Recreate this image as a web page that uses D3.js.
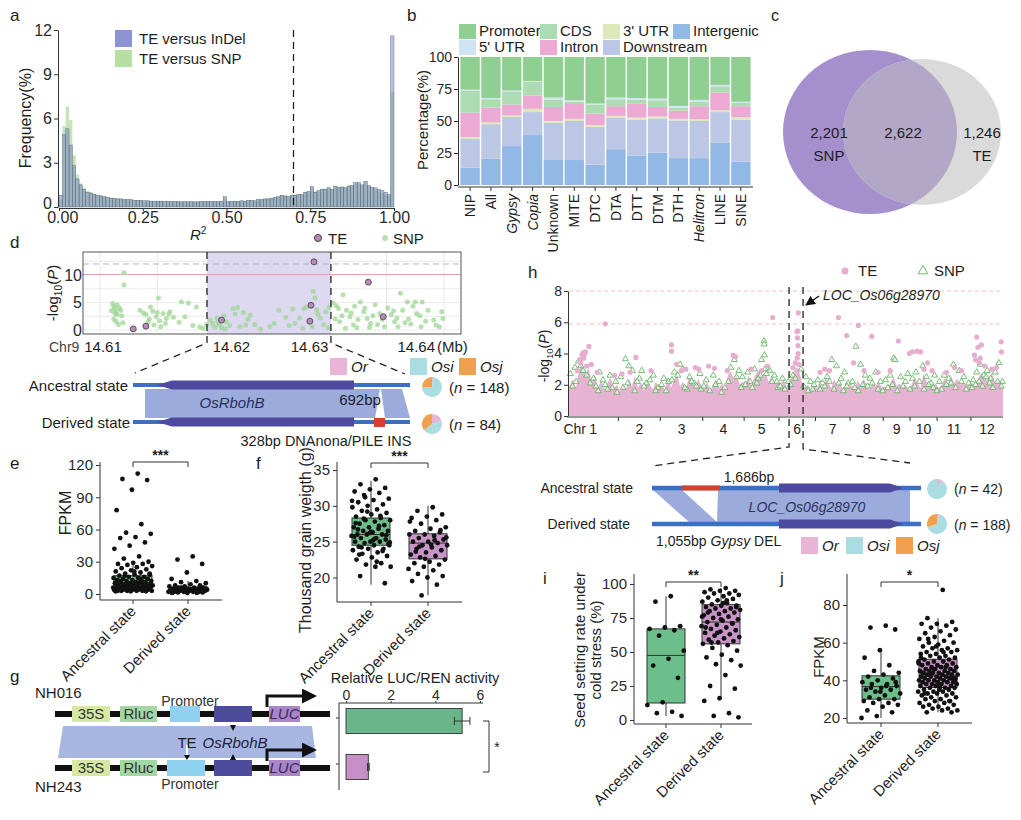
<!DOCTYPE html>
<html>
<head>
<meta charset="utf-8">
<script src="https://cdn.jsdelivr.net/npm/d3@7"></script>
<style>
  body { margin: 0; background: #fff; }
  svg { font-family: 'Liberation Sans', Arial, Helvetica, sans-serif; }
</style>
</head>
<body>
<svg id="fig" width="1021" height="820"></svg>
<script>
// ---------------- data ----------------

// a: LD histogram, 100 bins of 0.01
var histIndel = [0.8,4.9,5.3,4.2,2.8,1.9,1.5,1.2,1.0,0.95,
  0.85,0.8,0.75,0.7,0.65,0.6,0.6,0.55,0.55,0.5,
  0.5,0.5,0.45,0.45,0.45,0.42,0.42,0.4,0.4,0.4,
  0.4,0.38,0.4,0.36,0.38,0.36,0.35,0.36,0.35,0.36,
  0.35,0.35,0.38,0.36,0.38,0.36,0.38,0.36,0.38,0.7,
  0.36,0.38,0.4,0.38,0.42,0.4,0.45,0.45,0.42,0.5,
  0.5,0.55,0.55,0.6,0.65,0.7,0.8,0.75,0.7,0.8,
  0.8,0.85,0.85,1.0,1.05,1.4,1.0,1.1,1.2,1.2,
  1.3,1.2,1.4,1.3,1.35,1.3,1.4,1.45,1.65,1.65,
  1.5,1.75,1.45,1.35,1.3,1.2,1.1,1.0,0.85,11.6];
var histSnp = [0.5,5.5,6.8,5.9,3.5,2.2,1.6,1.3,1.1,1.0,
  0.9,0.85,0.8,0.72,0.68,0.62,0.6,0.58,0.55,0.52,
  0.5,0.5,0.46,0.45,0.45,0.43,0.42,0.41,0.4,0.4,
  0.4,0.38,0.4,0.37,0.38,0.36,0.36,0.36,0.35,0.36,
  0.35,0.36,0.38,0.36,0.38,0.37,0.38,0.36,0.38,0.65,
  0.37,0.38,0.4,0.39,0.42,0.41,0.45,0.46,0.43,0.5,
  0.52,0.55,0.56,0.6,0.66,0.7,0.78,0.75,0.72,0.82,
  0.85,0.9,0.85,1.0,1.05,1.3,1.05,1.1,1.25,1.25,
  1.35,1.2,1.45,1.35,1.4,1.35,1.5,1.45,1.6,1.6,
  1.45,1.7,1.4,1.3,1.2,1.05,0.95,0.85,0.75,7.8];
var r2Ticks = [0, 0.25, 0.5, 0.75, 1];
var r2Cutoff = 0.7;

// b: genomic feature share (%) per TE class
var bCats = ["NIP","All","Gypsy","Copia","Unknown","MITE","DTC","DTA","DTT","DTM","DTH","Helitron","LINE","SINE"];
var bItalic = ["Gypsy","Copia","Helitron"];
var bIntergenic = [13.5,20.5,30.4,39,19.5,19.5,15.8,28,23,25.2,21,21,33.2,18.2];
var bDownstream = [22.5,27,22.8,18,29.1,30.5,29.7,24.7,28,26.8,29.4,29,23.8,32.8];
var bUTR3 = [1.5,1.5,1.1,2.5,1.4,1.7,1.3,1.3,1.7,1.5,1.3,1.4,1.4,2];
var bIntron = [19,11.5,8.6,10.5,11,12.3,9,7.6,10.7,7.5,6.5,10.2,13.8,8.6];
var bCDS = [17,6.5,9.8,10.5,5.8,1,7.1,5.4,3.4,5.2,2.3,3.6,4.9,2.6];
var bUTR5 = [1,1,1.1,0.8,1.5,1.2,0.7,1.3,1.2,1.3,1.3,1.3,1.1,0.8];
var bPromoter = [25.5,32,26.2,18.7,31.7,33.8,36.4,31.7,32,32.5,38.2,33.5,21.8,35];
var bTicks = [0,25,50,75,100];

// c: venn counts
var vennCounts = [2201, 2622, 1246];
var vennNames = ["SNP", "TE"];

// d: local association around OsRbohB (x in kb from 14.61 Mb)
var dSnp = [[1.1,4.8],[1.2,4.3],[1.3,3.9],[1.4,3.3],[1.5,2.8],[1.2,2.0],[1.8,3.6],[1.6,1.0],[1.3,3.0],[1.9,2.6],
  [1.7,4.0],[1.0,3.5],[2.1,10.4],[2.1,8.2],[1.5,4.6],[3.5,3.6],[4.0,2.8],[4.4,4.2],[5.1,5.8],[4.9,2.4],
  [5.5,3.0],[5.8,2.1],[6.1,3.3],[4.2,1.5],[4.7,0.9],[5.3,0.6],[5.7,1.2],[6.4,2.3],[3.8,3.1],[4.6,3.4],
  [5.0,3.2],[6.0,2.9],[7.1,5.1],[7.7,4.9],[7.4,2.4],[8.7,0.6],[9.0,0.3],[8.1,0.8],[9.3,1.0],[6.9,1.4],
  [8.4,4.2],[9.6,1.8],[9.8,1.2],[10.0,0.5],[10.2,2.2],[10.4,1.0],[10.6,0.4],[10.8,2.6],[11.0,1.5],[11.3,0.8],
  [11.6,3.9],[12.0,4.1],[12.5,3.2],[12.9,1.9],[13.5,1.0],[14.8,0.6],[15.2,1.2],[15.6,3.6],[16.2,2.3],[16.8,3.8],
  [17.0,1.2],[17.4,2.2],[17.8,3.9],[18.0,4.2],[18.3,1.6],[18.6,7.0],[18.75,5.8],[18.9,3.7],[19.2,2.2],[19.5,1.0],
  [19.9,0.4],[20.0,4.2],[18.5,0.6],[17.7,0.3],[14.0,0.2],[12.2,0.6],[20.3,4.9],[20.6,4.4],[21.2,6.4],[21.5,3.6],
  [21.8,2.4],[22.1,0.9],[22.4,0.4],[22.7,5.1],[23.0,3.3],[23.3,2.1],[23.6,1.2],[24.0,4.6],[24.4,3.0],[24.8,0.6],
  [25.1,4.0],[25.4,2.8],[25.7,1.5],[26.0,0.6],[26.2,6.7],[26.4,3.6],[26.8,5.1],[27.5,5.1],[27.6,3.0],[28.0,0.6],
  [28.1,5.1],[29.1,1.8],[29.8,3.3],[29.9,2.1],[29.6,0.6],[20.9,1.5],[21.9,3.1],[23.8,2.6],[24.6,1.9],[25.9,2.2],
  [27.1,1.1],[27.9,2.6],[28.6,3.6],[22.5,1.9],[26.6,1.3],[21.4,0.3],[23.5,0.5],[20.5,2.0],[10.9,0.2],[12.7,0.9],
  [1.4,1.6],[2.0,1.3],[4.3,2.0],[5.2,1.7],[10.3,1.4],[11.8,2.9],[13.1,2.7],[16.5,0.8],[19.0,2.9],[20.8,3.9],
  [22.2,4.3],[24.2,1.0],[25.6,3.5],[27.3,4.3],[28.4,1.6],[29.3,0.9],[21.1,2.6],[23.1,4.0],[26.9,2.0],[19.7,3.3]];
var dTe = [[2.9,0.2],[4.0,0.7],[10.6,1.8],[18.3,1.6],[18.4,4.5],[18.66,12.4],[23.4,8.7],[24.7,2.4]];
var dRegion = [9.33, 20.14];
var dXTicks = ["14.61","14.62","14.63","14.64"];
var dYTicks = [0,5,10];
var dPieAnc = [2,73,25];   // Or, Osi, Osj
var dPieDer = [20,45,35];
var groupNames = ["Or","Osi","Osj"];

// e,f,i,j: box stats [min,q1,median,q3,max] and the dots
var states = ["Ancestral state","Derived state"];
var eAncBox = [3,5,9,17,30], eDerBox = [1,2,4.5,6,12];
var eAnc = [112,107,106,97,78,65,57,56,53,52,48,45,42,35,33,30,29,28,28,27,26,25,24,23,22,21,20,19,18,18,
  17,16,16,15,15,14,14,13,13,12,12,12,11,11,11,10,10,10,9,9,9,8,8,8,8,7,7,7,7,6,6,6,6,5,5,5,5,4,4,4,4,4,
  3,3,3,3,3,3,2.5,2.5,2.5,14,17,19,21,12,10,9,6,5];
var eDer = [35,32,28,20,14,12,11,10,9,8,8,7,7,6,6,6,5,5,5,5,4,4,4,4,4,3,3,3,3,3,2,2,2,2,2,1.5,1.5,1,1,1,6,5,4,3,7,2,3,5];
var fAncBox = [19,24.5,26,28.3,33.5], fDerBox = [17.5,22.6,24.8,26.1,30];
var fAnc = [33.7,33,32.5,32.3,32,31.8,31.5,31,30.8,30.5,30.2,30,29.8,29.5,29.3,29,28.8,28.5,28.3,28,28,27.8,27.5,
  27.3,27,27,26.8,26.5,26.5,26.3,26,26,26,25.8,25.5,25.5,25.3,25,25,25,24.8,24.5,24.5,24.3,24,24,23.8,23.5,23.3,
  23,22.8,22.5,22,21.8,21.5,21.5,20.2,19.2,26.2,25.7,27.2,28.2,24.7,25.2,26.7,23.7,29.2,30.7,22.2,24.2,25.9,26.4,
  27.6,28.6,31.2,24.9,25.4,23.2];
var fDer = [29.8,29.3,28.8,28.5,28.3,28,27.5,27,26.8,26.5,26.3,26,26,25.8,25.5,25.3,25,25,24.8,24.5,24.5,24.2,24,
  23.8,23.5,23.2,23,22.8,22.5,22.2,22,21.8,21.5,21.2,21,20.5,20.2,20,19.5,19,17.5,25.6,24.6,23.6,26.6,22.6,27.8,25.2,24.3];
var iAncBox = [3,12.5,47.5,67,91], iDerBox = [16,56,72,84.8,97];
var iAnc = [91,87,69,68,67,66,62,51,45,40,31,13,11,6,5,3];
var iDer = [97,96,95,95,94,93,93,92,91,90,89,88,87,86,85,84,84,83,82,82,81,80,80,79,78,77,76,75,74,73,72,71,70,
  69,68,67,66,65,64,63,62,61,60,59,58,57,56,55,53,51,48,46,44,41,40,33,25,23,16,14,5,3,2,86,79,71,64,76,88,57,83,74,68];
var jAncBox = [20,30,36.7,42.4,56.5], jDerBox = [23,36.2,42.4,51.2,73];
var jAnc = [69,68,67,56,52,48,45,44,43,42,41,40,39,38,38,37,36,35,35,34,33,32,31,30,30,29,28,28,27,26,24,23,21,20,37,36,39,34];
var jDer = [88,73,71,70,70,69,68,67,66,65,64,63,62,61,60,60,59,58,57,57,56,56,55,55,54,54,53,53,52,52,51,51,50,50,50,
  49,49,48,48,48,47,47,47,46,46,46,45,45,45,45,44,44,44,44,43,43,43,43,42,42,42,42,41,41,41,41,40,40,40,40,39,39,39,39,
  38,38,38,38,37,37,37,36,36,36,35,35,35,34,34,34,33,33,33,32,32,31,31,30,30,29,29,28,28,27,27,26,26,25,25,24,24,23,23,
  58,52,47,43,39,36,33,29,46,49,55,62,41,38,44];

// g: dual luciferase
var lucLines = ["NH016","NH243"];
var lucMean = [5.2, 1.0];
var lucErr = [0.35, 0.04];
var lucTicks = [0,2,4,6];

// h: genome wide scan
var chrLen = [43.27,35.94,36.41,35.50,29.96,31.25,29.70,28.44,23.01,23.21,29.02,27.53];
var mhBand = [
  [1.9,2.4,1.8,2.9,3.4,2.6,3.1,2.2,2.6,1.8,2.3,1.7,2.1,2.5,1.8,2.0],
  [1.6,2.1,1.7,2.4,1.9,2.6,1.8,2.2,1.6,2.3,2.0,1.7,2.2,1.8],
  [2.0,1.7,2.5,1.8,2.3,2.7,1.9,2.2,1.7,2.6,2.1,1.8,2.4,1.9],
  [1.8,2.2,1.6,2.0,2.4,1.8,2.1,1.7,2.6,2.9,2.3,2.7,2.0,2.2],
  [2.1,2.6,1.9,2.5,2.8,3.0,2.4,2.7,2.2,2.6,2.0,2.3],
  [2.0,2.4,1.8,2.3,2.7,3.1,3.0,2.2,1.8,2.0,1.7,1.9],
  [1.8,2.2,1.7,2.5,2.1,1.8,2.4,1.9,2.2,1.7,2.0,1.8],
  [2.0,1.7,2.3,1.9,2.4,2.0,1.7,2.2,1.9,2.3,1.8],
  [1.9,1.7,2.2,2.5,1.9,2.1,1.8,2.0,1.7],
  [2.0,2.5,2.1,1.8,2.7,2.2,2.0,1.8,2.1],
  [1.8,2.0,2.4,1.9,2.6,2.1,2.4,2.0,2.2,1.9,2.1],
  [2.1,1.9,2.5,2.8,2.4,2.2,2.8,2.1,2.3,2.0]];
var mhTe = [[1,12,3.9],[1,13,4.05],[1,14,3.95],[1,15,4.1],[1,18,4.45],[1,32,5.9],[1,10,3.6],[1,20,3.3],[1,40,2.6],
  [1,11,3.4],[1,13.5,3.7],[1,16,3.2],[1,8,2.9],[1,25,2.8],
  [2,15,3.75],[2,3,2.7],[2,28,2.9],[2,10,2.8],[3,9.5,4.55],[3,9.6,4.15],[3,14,3.3],[3,22,3.0],[3,30,3.1],[3,33,3.0],[3,18,2.9],
  [4,5,3.2],[4,10,3.05],[4,26,3.9],[4,28,3.8],[4,21,2.9],[5,24.5,6.3],[5,6,3.0],[5,15,2.9],[5,20,3.2],
  [6,16.5,6.6],[6,15.5,5.4],[6,16,5.45],[6,15.8,5.0],[6,16.2,4.5],[6,16.4,4.0],[6,15.6,3.7],[6,17,3.3],[6,14,3.4],[6,12,3.1],
  [7,19.7,6.3],[7,26.8,5.15],[7,8,3.0],[7,12,2.9],[7,4,2.8],[8,7.1,5.8],[8,18.6,5.1],[8,3,3.4],[8,12,2.9],[8,24,2.8],
  [9,13,4.8],[9,22.4,4.0],[9,6,2.9],[10,2,4.1],[10,6,4.15],[10,9,4.1],[10,15,3.4],[10,19,2.9],[10,12,3.0],
  [11,8,2.8],[11,15,3.1],[11,21,2.9],[12,5,5.05],[12,6,4.4],[12,9,4.55],[12,26,4.75],[12,26.2,4.1],[12,3,3.9],[12,7,3.4],
  [12,12,3.2],[12,18,3.0],[12,4,3.6],[12,8,3.7],[12,22,3.1]];
var mhSnp = [[1,2,2.7],[1,6,3.1],[1,9,3.5],[1,11,3.2],[1,16,2.6],[1,22,2.4],[1,27,2.8],[1,30,2.3],[1,36,2.6],[1,41,2.2],[1,24,1.9],[1,34,1.7],
  [2,2,2.5],[2,6,3.65],[2,9,3.2],[2,12,2.9],[2,18,2.4],[2,24,2.1],[2,30,2.6],[2,34,1.8],[2,20,2.9],
  [3,3,2.4],[3,7,2.2],[3,12,2.8],[3,17,3.3],[3,19,3.0],[3,25,2.5],[3,29,2.1],[3,34,2.7],[3,23,1.7],
  [4,3,2.3],[4,9,2.6],[4,14,2.2],[4,19,1.8],[4,24,3.1],[4,27,3.6],[4,31,2.9],[4,34,2.5],
  [5,3,2.8],[5,9,3.0],[5,12,2.4],[5,17,4.8],[5,17.2,4.6],[5,17.5,3.9],[5,15,3.6],[5,20,3.0],[5,22,2.9],[5,26,2.6],[5,28,2.2],
  [6,3,2.4],[6,8,2.2],[6,12,2.6],[6,19,3.0],[6,23,2.5],[6,27,2.2],[6,30,2.0],
  [7,2,2.3],[7,6,2.1],[7,10,2.5],[7,14,3.6],[7,18,3.2],[7,22,2.4],[7,25,2.8],[7,28,2.1],
  [8,2,2.2],[8,5,4.45],[8,9,3.3],[8,13,2.6],[8,17,2.4],[8,22,2.8],[8,26,2.2],
  [9,2,2.3],[9,6,2.6],[9,9,3.7],[9,10,3.6],[9,15,2.5],[9,19,2.2],[9,21,2.7],
  [10,2,2.4],[10,5,2.8],[10,11,3.2],[10,14,2.5],[10,18,2.1],[10,21,2.6],
  [11,2,2.2],[11,6,2.6],[11,10,2.4],[11,14,3.3],[11,19,2.9],[11,23,2.5],[11,27,2.1],
  [12,2,2.3],[12,5,2.8],[12,8,3.3],[12,11,2.6],[12,14,2.9],[12,17,2.4],[12,21,2.8],[12,24,3.4],[12,27,2.2],
  // denser cloud just over the TE mass
  [1,4,1.9],[1,7,2.2],[1,13,2.9],[1,19,2.1],[1,26,1.6],[1,32,2.0],[1,38,1.8],[1,42,1.5],
  [2,4,1.8],[2,8,2.1],[2,14,1.6],[2,16,2.2],[2,22,1.9],[2,27,2.3],[2,32,1.6],
  [3,1,2.0],[3,5,1.6],[3,10,2.3],[3,15,2.6],[3,21,1.8],[3,27,2.2],[3,31,1.9],[3,35,1.7],
  [4,1,1.9],[4,6,1.6],[4,11,2.0],[4,16,1.5],[4,22,2.2],[4,29,2.5],[4,33,1.8],
  [5,1,2.0],[5,5,2.2],[5,7,1.8],[5,11,2.1],[5,14,2.6],[5,18,3.0],[5,19,2.7],[5,24,2.2],[5,29,1.8],
  [6,1,1.9],[6,5,1.7],[6,10,2.0],[6,14,2.4],[6,21,1.9],[6,25,1.6],[6,29,1.7],
  [7,4,1.7],[7,8,1.9],[7,12,2.2],[7,16,1.7],[7,20,2.1],[7,24,1.6],[7,27,1.9],
  [8,4,1.8],[8,7,1.6],[8,11,2.0],[8,15,1.9],[8,19,2.1],[8,24,1.7],[8,28,1.6],
  [9,4,1.8],[9,8,2.0],[9,12,1.6],[9,17,1.9],[9,23,1.7],
  [10,4,1.9],[10,8,2.2],[10,12,1.7],[10,16,2.0],[10,20,1.8],[10,23,1.6],
  [11,4,1.7],[11,8,2.0],[11,12,2.1],[11,16,1.8],[11,21,2.2],[11,25,1.7],
  [12,1,1.8],[12,4,2.0],[12,7,2.2],[12,10,1.9],[12,13,2.5],[12,16,2.1],[12,19,1.8],[12,23,2.2],[12,26,1.9]];
var mhYTicks = [0,2,4,6,8];
var mhThresholds = [8, 5.9];
var mhRegion = [6, 8.6, 20.6];  // chr, start, end (Mb)
var hPieAnc = [8,92,0];
var hPieDer = [5,65,30];

// ---------------- helpers ----------------
var svg = d3.select("#fig");
var FONT = "'Liberation Sans', Arial, Helvetica, sans-serif";
var INK = "#1e1e1e";
var groupColors = ["#e9b5d6", "#a9dde1", "#f0a04e"];

function addText(g, x, y, s, o) {
  o = o || {};
  var t = g.append("text").attr("x", x).attr("y", y).text(s)
    .attr("font-size", o.size || 15).attr("text-anchor", o.anchor || "start")
    .attr("fill", o.fill || INK);
  if (o.italic) t.attr("font-style", "italic");
  if (o.bold) t.attr("font-weight", "bold");
  if (o.rotate != null) t.attr("transform", "rotate(" + o.rotate + "," + x + "," + y + ")");
  return t;
}

// text made of pieces (italic / sub / sup)
function rich(g, x, y, parts, o) {
  o = o || {};
  var sz = o.size || 15;
  var t = g.append("text").attr("x", x).attr("y", y).attr("font-size", sz)
    .attr("text-anchor", o.anchor || "start").attr("fill", o.fill || INK);
  if (o.rotate != null) t.attr("transform", "rotate(" + o.rotate + "," + x + "," + y + ")");
  parts.forEach(function (p) {
    var ts = t.append("tspan").text(p.t);
    if (p.i) ts.attr("font-style", "italic");
    if (p.b) ts.attr("font-weight", "bold");
    if (p.sub) ts.attr("font-size", sz * 0.68).attr("dy", 4);
    if (p.up) ts.attr("dy", -4);
    if (p.sup) ts.attr("font-size", sz * 0.68).attr("dy", -6);
  });
  return t;
}

function fixAxis(sel, size) {
  sel.attr("font-family", FONT);
  sel.selectAll("text").attr("font-size", size).attr("fill", "#2a2a2a");
  sel.selectAll("path, line").attr("stroke", "#333");
}

function line(g, x1, y1, x2, y2, stroke, w, dash) {
  var l = g.append("line").attr("x1", x1).attr("y1", y1).attr("x2", x2).attr("y2", y2)
    .attr("stroke", stroke || "#333").attr("stroke-width", w || 1);
  if (dash) l.attr("stroke-dasharray", dash);
  return l;
}

function pie(g, cx, cy, r, vals) {
  var arcs = d3.pie().sort(null)(vals);
  g.selectAll(null).data(arcs).join("path")
    .attr("transform", "translate(" + cx + "," + cy + ")")
    .attr("d", d3.arc().innerRadius(0).outerRadius(r))
    .attr("fill", function (d, i) { return groupColors[i]; });
}

function groupLegend(g, xs, y) {
  groupNames.forEach(function (n, i) {
    g.append("rect").attr("x", xs[i]).attr("y", y).attr("width", 17).attr("height", 17).attr("fill", groupColors[i]);
    addText(g, xs[i] + 21, y + 14, n, { italic: true, size: 15 });
  });
}

function bracket(g, x1, x2, y, stars) {
  g.append("path").attr("d", "M" + x1 + "," + (y + 5) + "V" + y + "H" + x2 + "V" + (y + 5))
    .attr("fill", "none").attr("stroke", "#333").attr("stroke-width", 1);
  addText(g, (x1 + x2) / 2, y - 2, stars, { anchor: "middle", size: 14, bold: true });
}

// box + jitter panel (e, f, i, j)
function boxPanel(o) {
  var g = svg.append("g");
  var x = d3.scalePoint().domain(states).range(o.xr);
  var y = d3.scaleLinear().domain(o.yd).range(o.yr);
  var fills = ["#6cbf8b", "#c994c7"];
  var ya = g.append("g").attr("transform", "translate(" + o.axisX + ",0)")
    .call(d3.axisLeft(y).tickValues(o.ticks).tickSize(4).tickSizeOuter(0));
  ya.select(".domain").remove();
  fixAxis(ya, 15);
  line(g, o.axisX, o.top, o.axisX, o.axisY);
  line(g, o.axisX, o.axisY, o.right, o.axisY);
  states.forEach(function (s, k) {
    var cx = x(s), b = o.boxes[k], hw = 19;
    line(g, cx, o.axisY, cx, o.axisY + 4);
    line(g, cx, y(b[0]), cx, y(b[4]));
    g.append("rect").attr("x", cx - hw).attr("width", 2 * hw).attr("y", y(b[3]))
      .attr("height", y(b[1]) - y(b[3])).attr("fill", fills[k]).attr("stroke", "#333").attr("stroke-width", 1);
    line(g, cx - hw, y(b[2]), cx + hw, y(b[2]), "#333", 1);
    // deterministic jitter spread (golden ratio steps)
    g.selectAll(null).data(o.pts[k]).join("circle")
      .attr("cx", function (d, i) { return cx + ((((i + 1) * 0.618034) % 1) - 0.5) * 40; })
      .attr("cy", function (d) { return y(d); })
      .attr("r", 2.4).attr("fill", "#111");
    addText(g, cx + 4, o.axisY + 12, s, { anchor: "end", rotate: -45, size: 15 });
  });
  bracket(g, x(states[0]), x(states[1]), o.brY, o.stars);
  return g;
}

// ---------------- panel a ----------------
(function () {
  var g = svg.append("g");
  var r2Bins = d3.range(100).map(function (i) { return i / 100; });
  var x = d3.scaleLinear([0, 1], [59, 394]);
  var y = d3.scaleLinear([0, 12], [207, 30]);
  var bw = x(0.01) - x(0);
  g.selectAll("rect.snp").data(histSnp).join("rect")
    .attr("x", function (d, i) { return x(r2Bins[i]); }).attr("width", bw)
    .attr("y", function (d) { return y(d); }).attr("height", function (d) { return y(0) - y(d); })
    .attr("fill", "#9fd488").attr("fill-opacity", 0.6);
  g.selectAll("rect.indel").data(histIndel).join("rect")
    .attr("x", function (d, i) { return x(r2Bins[i]); }).attr("width", bw)
    .attr("y", function (d) { return y(d); }).attr("height", function (d) { return y(0) - y(d); })
    .attr("fill", "#737bc6").attr("fill-opacity", 0.5).attr("stroke", "#4e6270").attr("stroke-width", 0.4);
  var ya = g.append("g").attr("transform", "translate(58,0)")
    .call(d3.axisLeft(y).tickValues([0, 3, 6, 9, 12]).tickSize(4).tickPadding(2).tickSizeOuter(0));
  fixAxis(ya, 16);
  ya.selectAll(".tick text").filter(function (d) { return d === 0; }).attr("dy", "0.1em");
  var xa = g.append("g").attr("transform", "translate(0,208)")
    .call(d3.axisBottom(x).tickValues(r2Ticks).tickFormat(d3.format(".2f")).tickSize(3).tickPadding(1).tickSizeOuter(0));
  fixAxis(xa, 16);
  xa.selectAll(".tick text").filter(function (d) { return d === 0; }).attr("dx", "0.2em");
  line(g, x(r2Cutoff), 30, x(r2Cutoff), 207, "#222", 1.3, "7,5");
  g.append("rect").attr("x", 115).attr("y", 30).attr("width", 17).attr("height", 17).attr("fill", "#8d93d2");
  g.append("rect").attr("x", 115).attr("y", 50).attr("width", 17).attr("height", 17).attr("fill", "#b8dfa2");
  addText(g, 139, 44, "TE versus InDel", { size: 15 });
  addText(g, 139, 64, "TE versus SNP", { size: 15 });
  addText(g, 31, 118, "Frequency(%)", { anchor: "middle", rotate: -90, size: 16 });
  rich(g, 190, 240, [{ t: "R", i: 1 }, { t: "2", sup: 1 }], { size: 15 });
  addText(g, 10, 21, "a", { size: 17 });
})();

// ---------------- panel b ----------------
(function () {
  var g = svg.append("g");
  var keys = ["Intergenic", "Downstream", "3' UTR", "Intron", "CDS", "5' UTR", "Promoter"];
  var cols = { "Intergenic": "#92b8e5", "Downstream": "#bcc7e6", "3' UTR": "#dde9b8", "Intron": "#eca9d3",
    "CDS": "#aedcb2", "5' UTR": "#d0e4f3", "Promoter": "#90cf92" };
  var series = [bIntergenic, bDownstream, bUTR3, bIntron, bCDS, bUTR5, bPromoter];
  var table = bCats.map(function (c, i) {
    var row = { cat: c };
    keys.forEach(function (k, j) { row[k] = series[j][i]; });
    return row;
  });
  var stack = d3.stack().keys(keys)(table);
  var x = d3.scaleBand(bCats, [460, 751]).paddingInner(0.07).paddingOuter(0.02);
  var y = d3.scaleLinear([0, 100], [185, 57]);
  g.selectAll("g.layer").data(stack).join("g").attr("fill", function (d) { return cols[d.key]; })
    .selectAll("rect").data(function (d) { return d; }).join("rect")
    .attr("x", function (d) { return x(d.data.cat); }).attr("width", x.bandwidth())
    .attr("y", function (d) { return y(d[1]); }).attr("height", function (d) { return y(d[0]) - y(d[1]); });
  var ya = g.append("g").attr("transform", "translate(458,0)")
    .call(d3.axisLeft(y).tickValues(bTicks).tickSize(4).tickPadding(2).tickSizeOuter(0));
  fixAxis(ya, 14);
  line(g, 458, 187, 753, 187);
  bCats.forEach(function (c) {
    var cx = x(c) + x.bandwidth() / 2;
    line(g, cx, 187, cx, 191);
    addText(g, cx + 5, 194, c, { anchor: "end", rotate: -90, size: 14, italic: bItalic.indexOf(c) >= 0 });
  });
  addText(g, 428, 120, "Percentage(%)", { anchor: "middle", rotate: -90, size: 15 });
  // legend in ggplot column order
  var leg = [["Promoter", 459, 24], ["5' UTR", 459, 40], ["CDS", 540, 24], ["Intron", 540, 40],
    ["3' UTR", 603, 24], ["Downstream", 603, 40], ["Intergenic", 673, 24]];
  leg.forEach(function (l) {
    g.append("rect").attr("x", l[1]).attr("y", l[2]).attr("width", 17).attr("height", 15).attr("fill", cols[l[0]]);
    addText(g, l[1] + 20, l[2] + 12, l[0], { size: 15 });
  });
  addText(g, 407, 21, "b", { size: 17 });
})();

// ---------------- panel c ----------------
(function () {
  var g = svg.append("g");
  var defs = svg.append("defs");
  defs.append("clipPath").attr("id", "snpClip").append("ellipse")
    .attr("cx", 870).attr("cy", 132).attr("rx", 87).attr("ry", 82);
  g.append("ellipse").attr("cx", 870).attr("cy", 132).attr("rx", 87).attr("ry", 82).attr("fill", "#a58fcc");
  g.append("ellipse").attr("cx", 922).attr("cy", 132).attr("rx", 79).attr("ry", 73).attr("fill", "#dadada");
  g.append("ellipse").attr("cx", 922).attr("cy", 132).attr("rx", 79).attr("ry", 73).attr("fill", "#b2a7c7")
    .attr("clip-path", "url(#snpClip)");
  var fmt = d3.format(",");
  addText(g, 829, 138, fmt(vennCounts[0]), { anchor: "middle", size: 15 });
  addText(g, 829, 161, vennNames[0], { anchor: "middle", size: 15 });
  addText(g, 903, 138, fmt(vennCounts[1]), { anchor: "middle", size: 15 });
  addText(g, 982, 138, fmt(vennCounts[2]), { anchor: "middle", size: 15 });
  addText(g, 982, 161, vennNames[1], { anchor: "middle", size: 15 });
  addText(g, 771, 21, "c", { size: 16 });
})();

// ---------------- panel d ----------------
(function () {
  var g = svg.append("g");
  var x = d3.scaleLinear([0, 30], [100, 444]);
  var y = d3.scaleLinear([0, 10], [330, 275]);
  var L = 83, R = 461, T = 252, B = 334;
  // grid
  d3.range(0, 31, 5).forEach(function (k) { line(g, x(k), T, x(k), B, "#e3e3e3", 0.8); });
  [0, 2.5, 5, 7.5, 10, 12.5].forEach(function (v) { line(g, L, y(v), R, y(v), "#e6e6e6", 0.8); });
  g.append("rect").attr("x", x(dRegion[0])).attr("y", T).attr("width", x(dRegion[1]) - x(dRegion[0]))
    .attr("height", B - T).attr("fill", "#d8d5ee").attr("fill-opacity", 0.9);
  line(g, L, y(12), R, y(12), "#b5b5b5", 1, "6,4");
  line(g, L, y(10.1), R, y(10.1), "#d8a4ad", 1);
  g.selectAll("circle.snp").data(dSnp).join("circle")
    .attr("cx", function (d) { return x(d[0]); }).attr("cy", function (d) { return y(d[1]); })
    .attr("r", 2.5).attr("fill", "#9fd694").attr("fill-opacity", 0.75);
  g.selectAll("circle.te").data(dTe).join("circle")
    .attr("cx", function (d) { return x(d[0]); }).attr("cy", function (d) { return y(d[1]); })
    .attr("r", 3).attr("fill", "#b38bb4").attr("stroke", "#4a3a4a").attr("stroke-width", 0.8);
  g.append("rect").attr("x", L).attr("y", T).attr("width", R - L).attr("height", B - T)
    .attr("fill", "none").attr("stroke", "#444").attr("stroke-width", 0.9);
  var ya = g.append("g").attr("transform", "translate(" + L + ",0)")
    .call(d3.axisLeft(y).tickValues(dYTicks).tickSize(0).tickPadding(1));
  ya.select(".domain").remove();
  fixAxis(ya, 16);
  rich(g, 58, 293, [{ t: "-log" }, { t: "10", sub: 1 }, { t: "(", up: 1 }, { t: "P", i: 1 }, { t: ")" }],
    { anchor: "middle", rotate: -90, size: 15, fill: INK });
  // x labels (placed like the original)
  addText(g, 49, 352, "Chr9", { size: 14, fill: "#444" });
  addText(g, x(0) + 3, 352, dXTicks[0], { anchor: "middle", size: 15 });
  addText(g, x(10) - 2, 352, dXTicks[1], { size: 15 });
  addText(g, x(20) - 1, 352, dXTicks[2], { anchor: "end", size: 15 });
  addText(g, x(30) - 9, 352, dXTicks[3], { anchor: "end", size: 15 });
  addText(g, x(30) - 7, 352, "(Mb)", { size: 15 });
  // legend
  g.append("circle").attr("cx", 318).attr("cy", 238).attr("r", 3.5).attr("fill", "#b38bb4").attr("stroke", "#4a3a4a");
  addText(g, 328, 244, "TE", { size: 15 });
  g.append("circle").attr("cx", 385).attr("cy", 238).attr("r", 3).attr("fill", "#b9e0b0");
  addText(g, 393, 244, "SNP", { size: 15 });
  // zoom lines
  g.append("path").attr("d", "M" + x(dRegion[0]) + "," + T + "V343L135,373").attr("fill", "none")
    .attr("stroke", "#222").attr("stroke-width", 1.3).attr("stroke-dasharray", "7,5");
  g.append("path").attr("d", "M" + x(dRegion[1]) + "," + T + "V343L405,374").attr("fill", "none")
    .attr("stroke", "#222").attr("stroke-width", 1.3).attr("stroke-dasharray", "7,5");
  groupLegend(g, [330, 410, 459], 358);

  // gene structure
  var band = "#9aabdc", blue = "#3b6fc2", gene = "#4e4aa0";
  g.append("polygon").attr("points", "145,389 380,389 375,418 145,418").attr("fill", band);
  g.append("polygon").attr("points", "381,389 402,389 410,418 385,418").attr("fill", band);
  [385, 422].forEach(function (yy) {
    line(g, 133, yy, 410, yy, blue, 4);
    g.append("polygon").attr("points", [[157, yy], [172, yy - 4.5], [354, yy - 4.5], [354, yy + 4.5], [172, yy + 4.5]].join(" "))
      .attr("fill", gene);
  });
  g.append("rect").attr("x", 374).attr("y", 418).attr("width", 11).attr("height", 9).attr("fill", "#d8402b");
  addText(g, 128, 391, "Ancestral state", { anchor: "end", size: 15 });
  addText(g, 130, 428, "Derived state", { anchor: "end", size: 15 });
  addText(g, 232, 408, "OsRbohB", { anchor: "middle", italic: true, size: 15, fill: "#2b2f5e" });
  addText(g, 360, 405, "692bp", { anchor: "middle", size: 15 });
  addText(g, 326, 446, "328bp DNAnona/PILE INS", { anchor: "middle", size: 14.5 });
  pie(g, 432, 387, 10, dPieAnc);
  pie(g, 432, 424, 10, dPieDer);
  rich(g, 449, 393, [{ t: "(" }, { t: "n", i: 1 }, { t: " = 148)" }], { size: 15 });
  rich(g, 449, 430, [{ t: "(" }, { t: "n", i: 1 }, { t: " = 84)" }], { size: 15 });
  addText(g, 10, 248, "d", { size: 17 });
})();

// ---------------- panel h ----------------
(function () {
  var g = svg.append("g");
  var starts = [0];
  chrLen.forEach(function (l, i) { starts.push(starts[i] + l); });
  var x = d3.scaleLinear([0, starts[12]], [568, 1003]);
  var y = d3.scaleLinear([0, 8], [416, 291]);
  var pos = function (c, mb) { return x(starts[c - 1] + mb); };
  mhThresholds.forEach(function (t) { line(g, 569, y(t), 1003, y(t), "#f0c2c2", 1, "4,3"); });
  // dense TE cloud as an area
  var bandPts = [];
  mhBand.forEach(function (arr, c) {
    arr.forEach(function (h, k) { bandPts.push([starts[c] + (k + 0.5) / arr.length * chrLen[c], h]); });
  });
  bandPts.unshift([0, mhBand[0][0]]);
  bandPts.push([starts[12], mhBand[11][mhBand[11].length - 1]]);
  g.append("path").datum(bandPts)
    .attr("d", d3.area().x(function (d) { return x(d[0]); }).y0(y(0)).y1(function (d) { return y(d[1]); }))
    .attr("fill", "#e6b4d2");
  g.selectAll("path.snp").data(mhSnp).join("path")
    .attr("transform", function (d) { return "translate(" + pos(d[0], d[1]) + "," + y(d[2]) + ")"; })
    .attr("d", d3.symbol(d3.symbolTriangle, 16)).attr("fill", "#fff").attr("fill-opacity", 0.6)
    .attr("stroke", "#66b866").attr("stroke-width", 0.9);
  g.selectAll("circle.te").data(mhTe).join("circle")
    .attr("cx", function (d) { return pos(d[0], d[1]); }).attr("cy", function (d) { return y(d[2]); })
    .attr("r", 2.6).attr("fill", "#e6aece");
  var ya = g.append("g").attr("transform", "translate(568,0)")
    .call(d3.axisLeft(y).tickValues(mhYTicks).tickSize(4).tickPadding(2).tickSizeOuter(0));
  fixAxis(ya, 14);
  line(g, 567, 417, 1003, 417, "#333", 1);
  starts.slice(1, 12).forEach(function (s) { line(g, x(s), 417, x(s), 421); });
  chrLen.forEach(function (l, i) {
    addText(g, x(starts[i] + l / 2), 434, String(i + 1), { anchor: "middle", size: 14 });
  });
  addText(g, 586, 434, "Chr", { anchor: "end", size: 14 });
  rich(g, 549, 356, [{ t: "-log" }, { t: "10", sub: 1 }, { t: "(", up: 1 }, { t: "P", i: 1 }, { t: ")" }],
    { anchor: "middle", rotate: -90, size: 14 });
  // candidate window
  var xa = pos(mhRegion[0], mhRegion[1]), xb = pos(mhRegion[0], mhRegion[2]);
  g.append("path").attr("d", "M" + xa + ",287V447L652,466").attr("fill", "none")
    .attr("stroke", "#222").attr("stroke-width", 1.3).attr("stroke-dasharray", "7,5");
  g.append("path").attr("d", "M" + xb + ",287V449L910,463").attr("fill", "none")
    .attr("stroke", "#222").attr("stroke-width", 1.3).attr("stroke-dasharray", "7,5");
  // arrow + gene name
  g.append("defs").append("marker").attr("id", "ah").attr("viewBox", "0 0 10 10").attr("refX", 9).attr("refY", 5)
    .attr("markerWidth", 7).attr("markerHeight", 7).attr("orient", "auto")
    .append("path").attr("d", "M0,0L10,5L0,10z").attr("fill", "#111");
  g.append("line").attr("x1", 819).attr("y1", 296).attr("x2", xb + 3).attr("y2", 305)
    .attr("stroke", "#111").attr("stroke-width", 1.4).attr("marker-end", "url(#ah)");
  addText(g, 823, 300, "LOC_Os06g28970", { italic: true, size: 14 });
  // legend
  g.append("circle").attr("cx", 845).attr("cy", 271).attr("r", 3.5).attr("fill", "#e6aece");
  addText(g, 858, 276, "TE", { size: 15 });
  g.append("path").attr("transform", "translate(923,271)").attr("d", d3.symbol(d3.symbolTriangle, 40))
    .attr("fill", "none").attr("stroke", "#6cbb6c");
  addText(g, 934, 276, "SNP", { size: 15 });
  addText(g, 528, 278, "h", { size: 17 });

  // gene structure
  var band = "#9aabdc", blue = "#3b6fc2", gene = "#4e4aa0";
  g.append("polygon").attr("points", "653,490 682,490 717,522 689,522").attr("fill", band);
  g.append("polygon").attr("points", "718,490 910,490 910,522 717,522").attr("fill", band);
  [488, 524].forEach(function (yy) {
    line(g, 652, yy, 921, yy, blue, 4.5);
    g.append("polygon").attr("points", [[779, yy - 4.5], [890, yy - 4.5], [903, yy], [890, yy + 4.5], [779, yy + 4.5]].join(" "))
      .attr("fill", gene);
  });
  line(g, 682, 488, 720, 488, "#d8402b", 5);
  addText(g, 749, 482, "1,686bp", { anchor: "middle", size: 14 });
  addText(g, 807, 512, "LOC_Os06g28970", { anchor: "middle", italic: true, size: 14, fill: "#2e3560" });
  rich(g, 656, 546, [{ t: "1,055bp " }, { t: "Gypsy", i: 1 }, { t: " DEL" }], { size: 14 });
  addText(g, 633, 493, "Ancestral state", { anchor: "end", size: 14 });
  addText(g, 630, 529, "Derived state", { anchor: "end", size: 14 });
  pie(g, 937, 489, 10, hPieAnc);
  pie(g, 937, 524, 10, hPieDer);
  rich(g, 954, 494, [{ t: "(" }, { t: "n", i: 1 }, { t: " = 42)" }], { size: 14 });
  rich(g, 954, 530, [{ t: "(" }, { t: "n", i: 1 }, { t: " = 188)" }], { size: 14 });
  groupLegend(g, [801, 846, 896], 537);
})();

// ---------------- panels e, f, i, j ----------------
(function () {
  var ge = boxPanel({ xr: [133, 188], yd: [0, 120], yr: [594, 465], ticks: [0, 30, 60, 90, 120],
    axisX: 100, axisY: 600, top: 462, right: 222, boxes: [eAncBox, eDerBox], pts: [eAnc, eDer], brY: 462, stars: "***" });
  addText(ge, 71, 513, "FPKM", { anchor: "middle", rotate: -90, size: 16 });
  addText(ge, 10, 469, "e", { size: 17 });

  var gf = boxPanel({ xr: [371, 428], yd: [20, 35], yr: [577.5, 470], ticks: [20, 25, 30, 35],
    axisX: 337, axisY: 602, top: 462, right: 462, boxes: [fAncBox, fDerBox], pts: [fAnc, fDer], brY: 463, stars: "***" });
  addText(gf, 311, 540, "Thousand grain weigth (g)", { anchor: "middle", rotate: -90, size: 16 });
  addText(gf, 256, 469, "f", { size: 17 });

  var gi = boxPanel({ xr: [666, 721], yd: [0, 100], yr: [720, 584], ticks: [0, 25, 50, 75, 100],
    axisX: 634, axisY: 724, top: 574, right: 752, boxes: [iAncBox, iDerBox], pts: [iAnc, iDer], brY: 582, stars: "**" });
  addText(gi, 585, 650, "Seed setting rate under", { anchor: "middle", rotate: -90, size: 15 });
  addText(gi, 601, 650, "cold stress (%)", { anchor: "middle", rotate: -90, size: 15 });
  addText(gi, 543, 584, "i", { size: 17 });

  var gj = boxPanel({ xr: [881, 938], yd: [20, 80], yr: [718, 605], ticks: [20, 40, 60, 80],
    axisX: 847, axisY: 723, top: 574, right: 972, boxes: [jAncBox, jDerBox], pts: [jAnc, jDer], brY: 582, stars: "*" });
  addText(gj, 824, 657, "FPKM", { anchor: "middle", rotate: -90, size: 15 });
  addText(gj, 780, 584, "j", { size: 17 });
})();

// ---------------- panel g ----------------
(function () {
  var g = svg.append("g");
  addText(g, 10, 682, "g", { size: 17 });
  g.append("defs").append("marker").attr("id", "bigah").attr("viewBox", "0 0 10 10").attr("refX", 8).attr("refY", 5)
    .attr("markerWidth", 5).attr("markerHeight", 5).attr("orient", "auto")
    .append("path").attr("d", "M0,0L10,5L0,10z").attr("fill", "#111");
  // band linking the two constructs
  g.append("polygon").attr("points", "63,726 312,726 316,758 58,758").attr("fill", "#a8b6e2");
  var rows = [{ y: 714, prom: [170, 200], arrowY: 696, name: "NH016", ny: 698, py: 706 },
    { y: 768, prom: [167, 205], arrowY: 750, name: "NH243", ny: 792, py: 789 }];
  rows.forEach(function (r) {
    line(g, 55, r.y, 330, r.y, "#111", 6);
    var boxes = [[72, 110, "#d7e8a4", "35S"], [120, 157, "#a2d6a3", "Rluc"], [r.prom[0], r.prom[1], "#8ed2f0", ""],
      [214, 252, "#4c4a9b", ""], [269, 300, "#a985c6", "LUC"]];
    boxes.forEach(function (b) {
      g.append("rect").attr("x", b[0]).attr("y", r.y - 8).attr("width", b[1] - b[0]).attr("height", 16).attr("fill", b[2]);
      if (b[3]) addText(g, (b[0] + b[1]) / 2, r.y + 5, b[3], { anchor: "middle", size: 15, italic: b[3] === "LUC",
        fill: b[3] === "LUC" ? "#3b2a5c" : "#333" });
    });
    g.append("path").attr("d", "M267," + (r.y - 7) + "V" + r.arrowY + "H314").attr("fill", "none")
      .attr("stroke", "#111").attr("stroke-width", 3).attr("marker-end", "url(#bigah)");
    addText(g, 35, r.ny, r.name, { size: 15 });
    addText(g, 190, r.py, "Promoter", { anchor: "middle", size: 14, fill: "#333" });
  });
  // TE insertion marker and the small arrowheads
  line(g, 187, 745, 187, 757, "#fff", 2);
  g.append("path").attr("d", "M184,755L190,755L187,760z").attr("fill", "#111");
  g.append("path").attr("d", "M230,725L236,725L233,731z").attr("fill", "#111");
  g.append("path").attr("d", "M230,760L236,760L233,754z").attr("fill", "#111");
  addText(g, 187, 748, "TE", { anchor: "middle", size: 15 });
  addText(g, 235, 748, "OsRbohB", { anchor: "middle", size: 15, italic: true, fill: "#1e2040" });

  // relative activity bars
  var x = d3.scaleLinear([0, 6], [346, 480]);
  var y = d3.scalePoint().domain(lucLines).range([721, 767]);
  var fills = ["#6ab68a", "#c68fc5"];
  line(g, 339, 703, 483, 703);
  line(g, 339, 703, 339, 790);
  var xa = g.append("g").attr("transform", "translate(0,703)")
    .call(d3.axisTop(x).tickValues(lucTicks).tickFormat(d3.format("d")).tickSize(2).tickPadding(1).tickSizeOuter(0));
  xa.select(".domain").remove();
  fixAxis(xa, 14);
  g.selectAll("rect.bar").data(lucMean).join("rect")
    .attr("x", x(0)).attr("y", function (d, i) { return y(lucLines[i]) - 12.5; })
    .attr("width", function (d) { return x(d) - x(0); }).attr("height", 25)
    .attr("fill", function (d, i) { return fills[i]; }).attr("stroke", "#333").attr("stroke-width", 0.9);
  lucMean.forEach(function (m, i) {
    var yy = y(lucLines[i]);
    line(g, 336, yy - 3, 339, yy - 3);
    line(g, x(m - lucErr[i]), yy, x(m + lucErr[i]), yy, "#333", 1);
    line(g, x(m - lucErr[i]), yy - 4, x(m - lucErr[i]), yy + 4, "#333", 1);
    line(g, x(m + lucErr[i]), yy - 4, x(m + lucErr[i]), yy + 4, "#333", 1);
  });
  g.append("path").attr("d", "M483,721H489V772H483").attr("fill", "none").attr("stroke", "#333");
  addText(g, 497, 752, "*", { anchor: "middle", size: 14 });
  addText(g, 415, 683, "Relative LUC/REN activity", { anchor: "middle", size: 14.5 });
})();
</script>
</body>
</html>
